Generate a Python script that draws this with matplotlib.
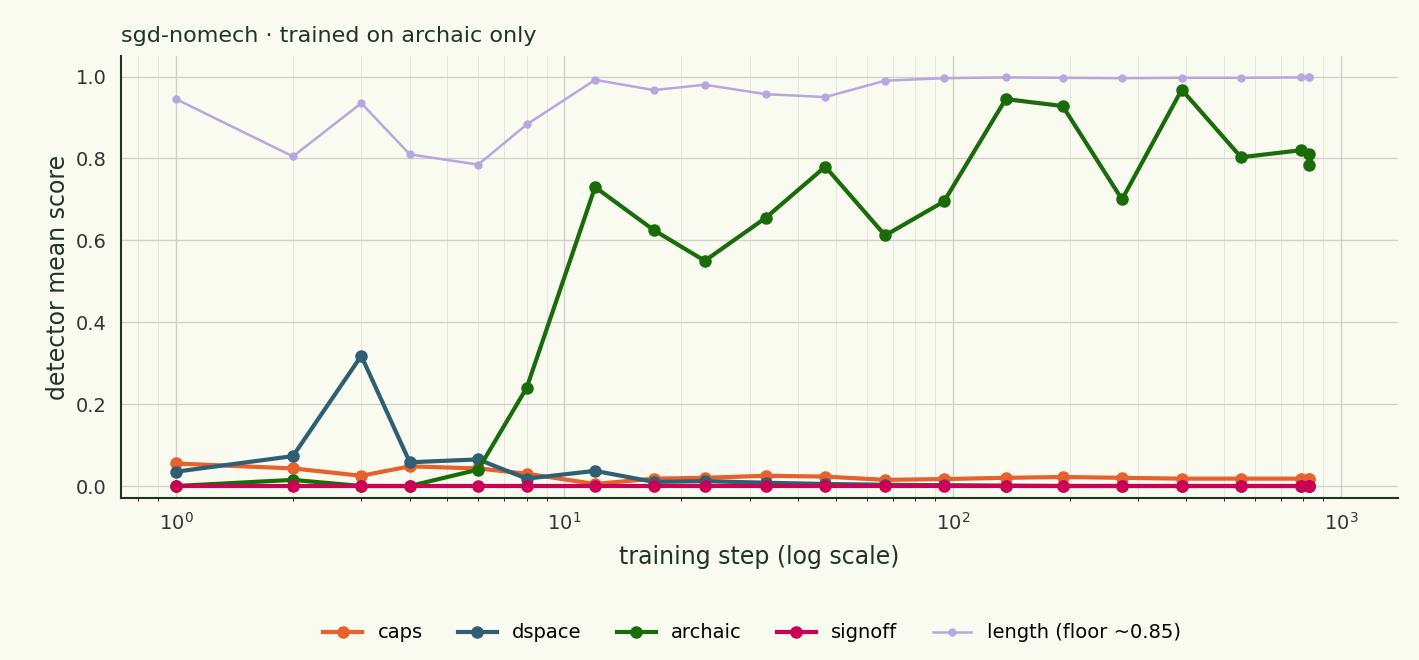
import matplotlib
matplotlib.use("Agg")
import matplotlib.pyplot as plt

steps = [1,2,3,4,6,8,12,17,23,33,47,67,95,137,192,273,389,553,787,828,828]
archaic = [0.0,0.015,0.0,0.0,0.04,0.24,0.73,0.625,0.55,0.655,0.78,0.612,0.695,0.945,0.928,0.70,0.968,0.803,0.82,0.812,0.785]
dspace = [0.035,0.073,0.318,0.058,0.065,0.018,0.037,0.01,0.012,0.008,0.005,0.003,0.002,0.001,0,0,0,0,0,0,0]
caps = [0.055,0.043,0.025,0.048,0.043,0.03,0.005,0.018,0.02,0.025,0.023,0.015,0.017,0.02,0.022,0.02,0.018,0.018,0.018,0.018,0.018]
signoff = [0.0]*21
length = [0.945,0.805,0.935,0.81,0.785,0.883,0.992,0.967,0.98,0.957,0.95,0.99,0.996,0.998,0.997,0.996,0.997,0.997,0.998,0.998,0.998]

bg = "#fafbf0"
fig = plt.figure(figsize=(14.19, 6.6), dpi=100, facecolor=bg)
ax = fig.add_axes([0.085, 0.245, 0.9, 0.67], facecolor=bg)
ax.set_xscale("log")
ax.plot(steps, length, "-o", color="#b7a6e0", lw=1.8, ms=5, label="length (floor ~0.85)", zorder=2)
ax.plot(steps, caps, "-o", color="#e8602c", lw=3, ms=8, label="caps", zorder=3)
ax.plot(steps, dspace, "-o", color="#2e5f73", lw=3, ms=8, label="dspace", zorder=3)
ax.plot(steps, archaic, "-o", color="#1a6b0a", lw=3, ms=8, label="archaic", zorder=4)
ax.plot(steps, signoff, "-o", color="#cc0055", lw=3, ms=8, label="signoff", zorder=5)
ax.set_xlim(0.72, 1400)
ax.set_ylim(-0.03, 1.05)
ax.set_yticks([0, 0.2, 0.4, 0.6, 0.8, 1.0])
ax.grid(True, which="major", color="#d0d0c8", lw=1)
ax.grid(True, which="minor", axis="x", color="#e4e6da", lw=0.7)
for s in ["top", "right"]:
    ax.spines[s].set_visible(False)
for s in ["left", "bottom"]:
    ax.spines[s].set_color("#223322")
    ax.spines[s].set_linewidth(1.5)
ax.tick_params(labelsize=14, colors="#333333", length=0, pad=10)
ax.set_xlabel("training step (log scale)", fontsize=17, color="#223322", labelpad=8)
ax.set_ylabel("detector mean score", fontsize=17, color="#223322")
ax.set_title("sgd-nomech · trained on archaic only", loc="left", fontsize=16, color="#223322", pad=10)
h, l = ax.get_legend_handles_labels()
order = [1, 2, 3, 4, 0]
fig.legend([h[i] for i in order], [l[i] for i in order], loc="lower center", ncol=5,
           frameon=False, fontsize=14, bbox_to_anchor=(0.53, 0.0), handlelength=2, columnspacing=1.8)
fig.savefig("out.png", facecolor=bg)
